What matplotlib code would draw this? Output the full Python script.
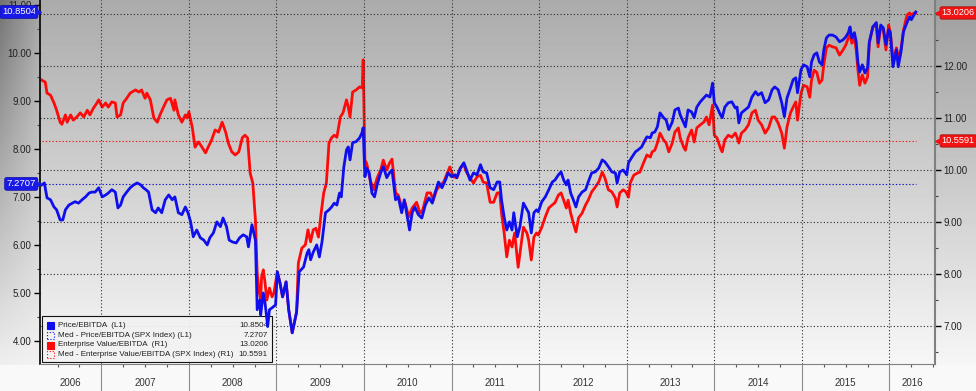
import numpy as np
import matplotlib.pyplot as plt
import matplotlib.transforms as mtransforms
from matplotlib.patches import Rectangle
from matplotlib.ticker import MultipleLocator, FormatStrFormatter

plt.rcParams['font.family'] = ['Liberation Sans', 'DejaVu Sans']

# Price/EBITDA (left axis), dates as decimal years
pe_dates = [
    2006.32, 2006.35, 2006.38, 2006.42, 2006.46, 2006.49, 2006.53, 2006.56, 2006.59, 2006.63,
    2006.67, 2006.70, 2006.74, 2006.78, 2006.82, 2006.86, 2006.89, 2006.93, 2006.97, 2007.01,
    2007.05, 2007.08, 2007.12, 2007.16, 2007.19, 2007.22, 2007.25, 2007.29, 2007.33, 2007.37,
    2007.41, 2007.45, 2007.48, 2007.51, 2007.54, 2007.58, 2007.62, 2007.65, 2007.69, 2007.73,
    2007.77, 2007.81, 2007.84, 2007.88, 2007.92, 2007.96, 2007.99, 2008.02, 2008.05, 2008.09,
    2008.13, 2008.17, 2008.21, 2008.24, 2008.28, 2008.32, 2008.36, 2008.39, 2008.43, 2008.46,
    2008.50, 2008.54, 2008.58, 2008.62, 2008.66, 2008.68, 2008.72, 2008.76, 2008.78, 2008.81,
    2008.82, 2008.85, 2008.87, 2008.90, 2008.92, 2008.95, 2008.99, 2009.01, 2009.04, 2009.07,
    2009.11, 2009.14, 2009.18, 2009.23, 2009.26, 2009.31, 2009.35, 2009.37, 2009.39, 2009.42,
    2009.46, 2009.49, 2009.52, 2009.56, 2009.60, 2009.63, 2009.66, 2009.69, 2009.72, 2009.74,
    2009.77, 2009.80, 2009.82, 2009.84, 2009.87, 2009.91, 2009.95, 2009.98, 2009.99, 2010.01,
    2010.03, 2010.06, 2010.09, 2010.12, 2010.15, 2010.19, 2010.22, 2010.26, 2010.29, 2010.32,
    2010.36, 2010.39, 2010.43, 2010.46, 2010.49, 2010.52, 2010.55, 2010.58, 2010.62, 2010.66,
    2010.70, 2010.74, 2010.78, 2010.81, 2010.85, 2010.89, 2010.93, 2010.96, 2011.00, 2011.04,
    2011.06, 2011.10, 2011.14, 2011.17, 2011.21, 2011.25, 2011.29, 2011.33, 2011.36, 2011.40,
    2011.44, 2011.48, 2011.52, 2011.55, 2011.57, 2011.60, 2011.63, 2011.66, 2011.69, 2011.71,
    2011.75, 2011.78, 2011.82, 2011.85, 2011.88, 2011.91, 2011.94, 2011.97, 2011.99, 2012.03,
    2012.07, 2012.11, 2012.15, 2012.18, 2012.22, 2012.25, 2012.28, 2012.31, 2012.33, 2012.36,
    2012.39, 2012.42, 2012.45, 2012.49, 2012.53, 2012.56, 2012.60, 2012.64, 2012.68, 2012.72,
    2012.75, 2012.79, 2012.83, 2012.87, 2012.89, 2012.92, 2012.96, 2013.00, 2013.02, 2013.06,
    2013.10, 2013.13, 2013.17, 2013.20, 2013.23, 2013.27, 2013.29, 2013.32, 2013.35, 2013.38,
    2013.42, 2013.45, 2013.48, 2013.52, 2013.55, 2013.59, 2013.61, 2013.65, 2013.67, 2013.70,
    2013.74, 2013.77, 2013.80, 2013.84, 2013.88, 2013.91, 2013.95, 2013.98, 2014.00, 2014.03,
    2014.07, 2014.09, 2014.12, 2014.16, 2014.20, 2014.24, 2014.26, 2014.28, 2014.31, 2014.35,
    2014.39, 2014.43, 2014.47, 2014.50, 2014.54, 2014.58, 2014.62, 2014.66, 2014.69, 2014.73,
    2014.77, 2014.80, 2014.83, 2014.87, 2014.90, 2014.93, 2014.95, 2014.99, 2015.02, 2015.06,
    2015.09, 2015.11, 2015.14, 2015.17, 2015.20, 2015.23, 2015.25, 2015.28, 2015.31, 2015.35,
    2015.39, 2015.43, 2015.47, 2015.50, 2015.53, 2015.55, 2015.57, 2015.60, 2015.62, 2015.64,
    2015.66, 2015.69, 2015.72, 2015.75, 2015.77, 2015.81, 2015.85, 2015.87, 2015.90, 2015.93,
    2015.96, 2015.99, 2016.01, 2016.04, 2016.08, 2016.10, 2016.13, 2016.16, 2016.20, 2016.23,
    2016.25, 2016.28, 2016.30]
pe_vals = [
    7.25, 7.29, 6.98, 6.94, 6.79, 6.73, 6.52, 6.52, 6.73, 6.83,
    6.87, 6.90, 6.87, 6.94, 7.00, 7.08, 7.10, 7.10, 7.19, 7.00,
    7.04, 7.08, 7.15, 7.10, 6.77, 6.83, 7.00, 7.10, 7.19, 7.25,
    7.29, 7.25, 7.19, 7.15, 7.10, 6.73, 6.67, 6.77, 6.67, 6.94,
    7.04, 6.94, 7.00, 6.67, 6.63, 6.79, 6.67, 6.48, 6.17, 6.31,
    6.15, 6.10, 6.00, 6.15, 6.25, 6.48, 6.38, 6.56, 6.38, 6.10,
    6.06, 6.04, 6.15, 6.21, 6.17, 5.96, 6.42, 6.10, 4.65, 4.85,
    4.54, 5.00, 4.79, 4.30, 4.65, 4.69, 4.75, 5.44, 5.21, 4.92,
    5.23, 4.65, 4.17, 4.60, 5.44, 5.54, 5.83, 5.90, 5.69, 5.85,
    6.00, 5.75, 6.06, 6.67, 6.73, 6.79, 6.87, 6.83, 7.08, 7.00,
    7.63, 7.98, 8.04, 7.77, 8.13, 8.15, 8.23, 8.35, 8.44, 7.42,
    7.60, 7.50, 7.08, 7.00, 7.25, 7.50, 7.63, 7.40, 7.50, 7.56,
    6.94, 7.00, 6.67, 6.94, 6.63, 6.31, 6.67, 6.79, 6.63, 6.56,
    6.83, 6.98, 6.87, 7.08, 7.31, 7.19, 7.35, 7.50, 7.42, 7.46,
    7.40, 7.60, 7.71, 7.56, 7.35, 7.50, 7.46, 7.67, 7.52, 7.50,
    7.19, 7.15, 7.31, 7.31, 6.94, 6.58, 6.31, 6.48, 6.31, 6.67,
    6.17, 6.38, 6.87, 6.77, 6.67, 6.25, 6.67, 6.73, 6.69, 6.90,
    7.00, 7.15, 7.31, 7.35, 7.46, 7.52, 7.35, 7.25, 7.35, 7.08,
    6.94, 6.79, 7.00, 7.10, 7.15, 7.31, 7.50, 7.52, 7.60, 7.77,
    7.73, 7.63, 7.52, 7.50, 7.29, 7.52, 7.56, 7.46, 7.71, 7.83,
    7.94, 7.98, 8.04, 8.15, 8.25, 8.23, 8.33, 8.35, 8.46, 8.75,
    8.65, 8.60, 8.40, 8.56, 8.81, 8.85, 8.71, 8.54, 8.46, 8.81,
    8.77, 8.65, 8.87, 8.98, 9.06, 9.12, 9.08, 9.37, 8.96, 8.87,
    8.71, 8.65, 8.87, 8.96, 8.98, 8.85, 8.87, 8.54, 8.75, 8.81,
    8.87, 9.08, 9.19, 9.12, 9.17, 8.96, 9.02, 9.23, 9.29, 9.23,
    8.96, 8.67, 9.06, 9.27, 9.44, 9.48, 9.17, 9.65, 9.75, 9.71,
    9.50, 9.81, 9.96, 10.00, 9.81, 9.75, 10.06, 10.31, 10.37, 10.37,
    10.33, 10.23, 10.27, 10.33, 10.42, 10.54, 10.31, 10.42, 10.23, 9.79,
    9.60, 9.75, 9.58, 9.69, 10.23, 10.54, 10.63, 10.21, 10.58, 10.52,
    10.17, 10.48, 10.42, 9.71, 10.06, 9.71, 10.00, 10.44, 10.63, 10.75,
    10.69, 10.79, 10.8504]

# Enterprise Value/EBITDA (right axis)
ev_dates = [
    2006.32, 2006.36, 2006.38, 2006.42, 2006.46, 2006.49, 2006.53, 2006.55, 2006.59, 2006.61,
    2006.65, 2006.68, 2006.72, 2006.76, 2006.80, 2006.84, 2006.87, 2006.91, 2006.95, 2006.97,
    2007.01, 2007.05, 2007.08, 2007.12, 2007.16, 2007.18, 2007.22, 2007.25, 2007.29, 2007.33,
    2007.39, 2007.43, 2007.46, 2007.50, 2007.52, 2007.56, 2007.60, 2007.64, 2007.67, 2007.71,
    2007.75, 2007.79, 2007.83, 2007.84, 2007.88, 2007.92, 2007.96, 2007.98, 2008.00, 2008.04,
    2008.07, 2008.11, 2008.15, 2008.19, 2008.22, 2008.26, 2008.30, 2008.34, 2008.38, 2008.42,
    2008.45, 2008.49, 2008.53, 2008.57, 2008.61, 2008.64, 2008.67, 2008.70, 2008.73, 2008.76,
    2008.78, 2008.80, 2008.82, 2008.83, 2008.85, 2008.87, 2008.89, 2008.92, 2008.95, 2008.97,
    2009.01, 2009.04, 2009.07, 2009.11, 2009.14, 2009.18, 2009.23, 2009.25, 2009.29, 2009.33,
    2009.36, 2009.39, 2009.42, 2009.45, 2009.48, 2009.51, 2009.54, 2009.57, 2009.60, 2009.63,
    2009.66, 2009.69, 2009.73, 2009.76, 2009.80, 2009.82, 2009.84, 2009.87, 2009.91, 2009.95,
    2009.98, 2009.99, 2010.01, 2010.03, 2010.07, 2010.11, 2010.15, 2010.19, 2010.22, 2010.26,
    2010.29, 2010.32, 2010.36, 2010.39, 2010.43, 2010.47, 2010.51, 2010.55, 2010.60, 2010.64,
    2010.67, 2010.72, 2010.76, 2010.79, 2010.83, 2010.87, 2010.91, 2010.95, 2010.98, 2011.02,
    2011.06, 2011.10, 2011.14, 2011.17, 2011.21, 2011.25, 2011.29, 2011.33, 2011.36, 2011.40,
    2011.44, 2011.48, 2011.52, 2011.55, 2011.57, 2011.60, 2011.63, 2011.66, 2011.69, 2011.72,
    2011.76, 2011.79, 2011.82, 2011.86, 2011.88, 2011.91, 2011.94, 2011.97, 2011.99, 2012.03,
    2012.07, 2012.11, 2012.15, 2012.18, 2012.22, 2012.25, 2012.28, 2012.31, 2012.33, 2012.36,
    2012.39, 2012.42, 2012.45, 2012.49, 2012.53, 2012.56, 2012.60, 2012.64, 2012.68, 2012.72,
    2012.75, 2012.79, 2012.83, 2012.87, 2012.89, 2012.92, 2012.96, 2012.99, 2013.02, 2013.04,
    2013.08, 2013.12, 2013.15, 2013.19, 2013.23, 2013.27, 2013.29, 2013.32, 2013.35, 2013.38,
    2013.42, 2013.45, 2013.48, 2013.52, 2013.55, 2013.59, 2013.61, 2013.65, 2013.67, 2013.70,
    2013.74, 2013.77, 2013.80, 2013.84, 2013.88, 2013.91, 2013.94, 2013.98, 2014.00, 2014.03,
    2014.07, 2014.09, 2014.12, 2014.16, 2014.20, 2014.24, 2014.26, 2014.28, 2014.31, 2014.35,
    2014.39, 2014.43, 2014.47, 2014.50, 2014.54, 2014.58, 2014.62, 2014.66, 2014.69, 2014.73,
    2014.77, 2014.80, 2014.83, 2014.87, 2014.90, 2014.93, 2014.95, 2014.99, 2015.02, 2015.06,
    2015.09, 2015.11, 2015.14, 2015.17, 2015.20, 2015.23, 2015.25, 2015.28, 2015.31, 2015.35,
    2015.39, 2015.43, 2015.47, 2015.50, 2015.53, 2015.55, 2015.57, 2015.60, 2015.62, 2015.64,
    2015.66, 2015.69, 2015.72, 2015.75, 2015.77, 2015.81, 2015.85, 2015.87, 2015.90, 2015.93,
    2015.96, 2015.99, 2016.01, 2016.04, 2016.08, 2016.10, 2016.13, 2016.16, 2016.20, 2016.23,
    2016.25, 2016.28, 2016.30]
ev_vals = [
    11.73, 11.69, 11.48, 11.44, 11.29, 11.15, 10.92, 10.88, 11.06, 10.92,
    11.06, 10.96, 11.02, 11.10, 11.02, 11.15, 11.06, 11.19, 11.29, 11.35,
    11.21, 11.29, 11.21, 11.31, 11.29, 11.02, 11.06, 11.29, 11.38, 11.48,
    11.54, 11.50, 11.54, 11.38, 11.48, 11.35, 11.00, 10.92, 11.06, 11.21,
    11.35, 11.38, 11.15, 11.35, 11.06, 10.92, 11.06, 11.00, 11.12, 10.81,
    10.44, 10.54, 10.44, 10.33, 10.44, 10.58, 10.77, 10.73, 10.92, 10.73,
    10.52, 10.35, 10.29, 10.35, 10.62, 10.67, 10.62, 9.94, 9.75, 9.04,
    8.02, 7.69, 7.50, 7.94, 8.08, 7.83, 7.50, 7.73, 7.56, 7.63,
    8.04, 7.83, 7.56, 7.85, 7.31, 6.87, 7.27, 8.21, 8.50, 8.56,
    8.85, 8.62, 8.85, 8.88, 8.71, 9.17, 9.56, 9.75, 10.52, 10.62,
    10.67, 10.63, 11.02, 11.10, 11.35, 11.21, 11.02, 11.50, 11.54, 11.60,
    11.58, 12.12, 10.19, 10.13, 9.81, 9.62, 9.85, 10.00, 10.19, 10.00,
    10.13, 10.21, 9.56, 9.52, 9.29, 9.37, 9.10, 9.27, 9.38, 9.17,
    9.23, 9.56, 9.56, 9.42, 9.62, 9.71, 9.77, 9.94, 10.06, 9.87,
    9.85, 10.04, 10.10, 9.96, 9.85, 9.75, 9.87, 9.90, 9.77, 9.75,
    9.38, 9.38, 9.56, 9.56, 9.17, 8.79, 8.33, 8.65, 8.52, 8.79,
    8.13, 8.52, 8.90, 8.79, 8.65, 8.27, 8.71, 8.79, 8.75, 8.90,
    9.10, 9.27, 9.33, 9.37, 9.52, 9.56, 9.42, 9.27, 9.42, 9.17,
    8.98, 8.81, 9.08, 9.17, 9.33, 9.42, 9.58, 9.67, 9.77, 9.96,
    9.85, 9.62, 9.58, 9.46, 9.29, 9.56, 9.62, 9.58, 9.48, 9.75,
    9.90, 9.94, 9.96, 10.13, 10.29, 10.25, 10.35, 10.38, 10.52, 10.71,
    10.58, 10.52, 10.35, 10.52, 10.73, 10.81, 10.62, 10.44, 10.38, 10.62,
    10.77, 10.54, 10.81, 10.87, 10.92, 11.02, 10.87, 11.25, 10.67, 10.62,
    10.42, 10.35, 10.58, 10.67, 10.63, 10.71, 10.63, 10.52, 10.71, 10.77,
    10.87, 11.10, 11.15, 10.96, 10.87, 10.71, 10.81, 11.02, 11.02, 10.90,
    10.71, 10.42, 10.83, 11.10, 11.21, 11.31, 10.96, 11.48, 11.63, 11.60,
    11.40, 11.73, 11.92, 11.88, 11.67, 11.73, 12.02, 12.35, 12.40, 12.37,
    12.35, 12.21, 12.31, 12.40, 12.54, 12.63, 12.44, 12.54, 12.31, 11.92,
    11.63, 11.83, 11.67, 11.79, 12.44, 12.75, 12.79, 12.37, 12.75, 12.69,
    12.31, 12.79, 12.65, 12.12, 12.35, 12.15, 12.31, 12.69, 12.98, 13.02,
    12.98, 13.02, 13.0206]

pe_last = 10.8504
pe_median = 7.2707
ev_last = 13.0206
ev_median = 10.5591

years = list(range(2006, 2017))
legend_labels = ['Price/EBITDA  (L1)',
                 'Med - Price/EBITDA (SPX Index) (L1)',
                 'Enterprise Value/EBITDA  (R1)',
                 'Med - Enterprise Value/EBITDA (SPX Index) (R1)']
legend_values = [pe_last, pe_median, ev_last, ev_median]

BLUE = '#0f0fee'
RED = '#ff0a0a'
W, H = 976, 391
XMIN, XMAX = 2006.30, 2016.52

fig = plt.figure(figsize=(W / 100, H / 100), dpi=100)

# gray gradient backdrop
bg = fig.add_axes([0, 0, 1, 1])
bg.set_axis_off()
yy, xx = np.mgrid[0:H, 0:W]
t = yy / (H - 1)
shade = 0.67 + 0.32 * t
shade = np.where(xx < 40, shade - 0.2 * (1 - xx / 40) * (1 - t) - 0.02, shade)
shade = np.where(xx > 935, shade - 0.05 * (1 - t), shade)
shade = np.where(yy > 364, 0.975, shade)
bg.imshow(np.clip(shade, 0, 1), cmap='gray', vmin=0, vmax=1,
          extent=[0, 1, 0, 1], aspect='auto', interpolation='bilinear')

axL = fig.add_axes([40 / W, 27 / H, 895 / W, 364 / H])
axR = axL.twinx()
axL.set_zorder(axR.get_zorder() + 1)
axL.patch.set_visible(False)
axR.patch.set_visible(False)

for ax in (axL, axR):
    ax.yaxis.set_major_locator(MultipleLocator(1))
    ax.yaxis.set_minor_locator(MultipleLocator(0.5))
    ax.yaxis.set_major_formatter(FormatStrFormatter('%.2f'))
    ax.tick_params(axis='y', which='major', length=4, width=1, color='black',
                   labelsize=7, labelcolor='#222222', pad=2)
    ax.tick_params(axis='y', which='minor', length=2, width=0.8, color='#444444')
    ax.spines['top'].set_visible(False)

axL.spines['right'].set_visible(False)
axL.spines['left'].set_color('black')
axL.spines['left'].set_linewidth(1.2)
axL.spines['bottom'].set_color('#808080')
axR.spines['left'].set_visible(False)
axR.spines['bottom'].set_visible(False)
axR.spines['right'].set_color('#808080')
axR.spines['right'].set_linewidth(1.5)

# year boundaries and quarter ticks
axL.set_xticks(years[1:])
axL.set_xticks([y + q for y in years for q in (0.25, 0.5, 0.75)], minor=True)
axL.set_xticklabels([])
axL.tick_params(axis='x', which='major', length=20, width=0.8, color='#8c8c8c')
axL.tick_params(axis='x', which='minor', length=2.5, width=0.8, color='#555555')

grid_style = dict(linestyle=(0, (1, 2)), color='#2a2a2a', linewidth=0.8)
axL.grid(axis='x', which='major', **grid_style)
axR.grid(axis='y', which='major', **grid_style)
axR.set_axisbelow(True)
axL.set_axisbelow(True)

# median lines
axL.plot([pe_dates[0], pe_dates[-1]], [pe_median, pe_median], color='#1010c8',
         linestyle=(0, (1.2, 1.8)), linewidth=0.8)
axR.plot([ev_dates[0], ev_dates[-1]], [ev_median, ev_median], color='#e81818',
         linestyle=(0, (1.2, 1.8)), linewidth=0.8)

# series
axR.plot(ev_dates, ev_vals, color=RED, linewidth=2.0, solid_joinstyle='round', zorder=3)
axL.plot(pe_dates, pe_vals, color=BLUE, linewidth=2.0, solid_joinstyle='round', zorder=3)

# limits set last so tick placement does not widen them
axL.set_xlim(XMIN, XMAX)
axR.set_xlim(XMIN, XMAX)
axL.set_ylim(3.52, 11.10)
axR.set_ylim(6.27, 13.27)

# year labels centered on visible part of each year
lab_tr = mtransforms.blended_transform_factory(axL.transData, axL.transAxes)
for y in years:
    a, b = max(y, XMIN), min(y + 1, XMAX)
    axL.text((a + b) / 2, -0.052, str(y), transform=lab_tr, ha='center', va='center',
             fontsize=7, color='#333333', clip_on=False)

# value tags on the axes
trL = mtransforms.blended_transform_factory(axL.transAxes, axL.transData)
trR = mtransforms.blended_transform_factory(axR.transAxes, axR.transData)
for val in (pe_last, pe_median):
    axL.text(-0.0045, val, f'{val:.4f}', transform=trL, ha='right', va='center',
             color='white', fontsize=6.8, clip_on=False, zorder=6,
             bbox=dict(boxstyle='round,pad=0.2', fc='#1a1ae6', ec='#0808a0', lw=0.5))
    axL.plot([-0.002], [val], marker='>', markersize=4, color='#1a1ae6',
             transform=trL, clip_on=False, zorder=6)
for val in (ev_last, ev_median):
    axR.text(1.0075, val, f'{val:.4f}', transform=trR, ha='left', va='center',
             color='white', fontsize=6.6, clip_on=False, zorder=6,
             bbox=dict(boxstyle='round,pad=0.18', fc='#f01414', ec='#a00000', lw=0.5))
    axR.plot([1.003], [val], marker='<', markersize=4, color='#f01414',
             transform=trR, clip_on=False, zorder=6)

# legend box (drawn under the series lines)
ft = fig.transFigure
axL.add_patch(Rectangle((42 / W, 1 - 362 / H), 230 / W, 46 / H, transform=ft,
                        facecolor='#f2f2f2', edgecolor='black', linewidth=0.8,
                        alpha=0.92, zorder=1.5, clip_on=False))
row_y = [325.5, 335.5, 345.0, 354.5]
swatch = [dict(facecolor=BLUE, edgecolor=BLUE),
          dict(facecolor='none', edgecolor=BLUE, linestyle=':'),
          dict(facecolor=RED, edgecolor=RED),
          dict(facecolor='none', edgecolor=RED, linestyle=':')]
for ry, lab, v, st in zip(row_y, legend_labels, legend_values, swatch):
    fy = 1 - ry / H
    axL.add_patch(Rectangle((47 / W, fy - 3.5 / H), 7 / W, 7 / H, transform=ft,
                            linewidth=0.8, zorder=1.6, clip_on=False, **st))
    axL.text(58 / W, fy, lab, transform=ft, ha='left', va='center', fontsize=5.8,
             color='#202020', zorder=1.6, clip_on=False)
    axL.text(268 / W, fy, f'{v:.4f}', transform=ft, ha='right', va='center',
             fontsize=5.8, color='#202020', zorder=1.6, clip_on=False)

fig.savefig('out.png', dpi=100)
